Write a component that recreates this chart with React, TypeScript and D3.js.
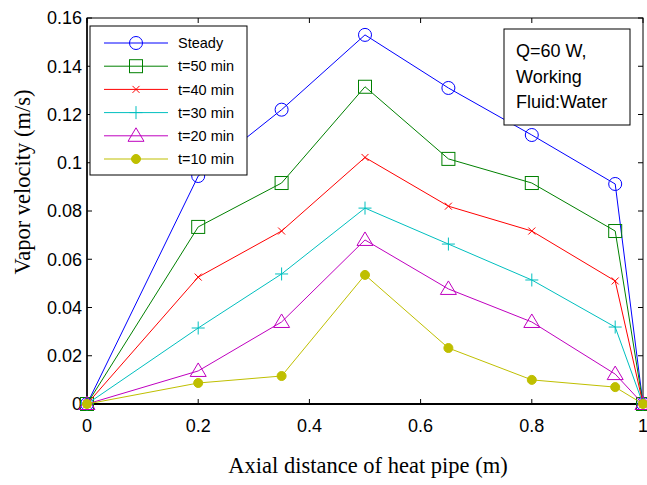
import React, { useRef, useEffect } from "react";
import * as d3 from "d3";

// axial positions (m)
const positions = [0, 0.2, 0.35, 0.5, 0.65, 0.8, 0.95, 1];

const steady = [0, 0.0945, 0.122, 0.153, 0.131, 0.1115, 0.0912, 0];
const t50 = [0, 0.0734, 0.0916, 0.1315, 0.1016, 0.0916, 0.0717, 0];
const t40 = [0, 0.0526, 0.0717, 0.1022, 0.082, 0.0717, 0.051, 0];
const t30 = [0, 0.0315, 0.0539, 0.0812, 0.0663, 0.0514, 0.0319, 0];
const t20 = [0, 0.0137, 0.034, 0.068, 0.0477, 0.034, 0.0124, 0];
const t10 = [0, 0.0087, 0.0116, 0.0535, 0.0232, 0.01, 0.007, 0];

const seriesNames = ["Steady", "t=50 min", "t=40 min", "t=30 min", "t=20 min", "t=10 min"];
const seriesValues = [steady, t50, t40, t30, t20, t10];
const seriesColors = ["#0000ff", "#008000", "#ff0000", "#00bfbf", "#bf00bf", "#bfbf00"];
const seriesMarkers = ["circle", "square", "x", "plus", "triangle", "dot"];

const xTicks = [0, 0.2, 0.4, 0.6, 0.8, 1];
const yTicks = [0, 0.02, 0.04, 0.06, 0.08, 0.1, 0.12, 0.14, 0.16];

const noteLines = ["Q=60 W,", "Working", "Fluid:Water"];

const width = 647;
const height = 485;
const margin = { top: 18, right: 4, bottom: 81, left: 87 };

function drawMarker(g: any, kind: string, x: number, y: number, color: string) {
  if (kind === "circle") {
    g.append("circle").attr("cx", x).attr("cy", y).attr("r", 6.5)
      .attr("fill", "none").attr("stroke", color).attr("stroke-width", 1);
  } else if (kind === "square") {
    g.append("rect").attr("x", x - 6.5).attr("y", y - 6.5).attr("width", 13).attr("height", 13)
      .attr("fill", "none").attr("stroke", color).attr("stroke-width", 1);
  } else if (kind === "x") {
    const s = 3.5;
    g.append("path").attr("d", `M${x - s},${y - s}L${x + s},${y + s}M${x - s},${y + s}L${x + s},${y - s}`)
      .attr("stroke", color).attr("stroke-width", 1);
  } else if (kind === "plus") {
    const s = 6.5;
    g.append("path").attr("d", `M${x - s},${y}L${x + s},${y}M${x},${y - s}L${x},${y + s}`)
      .attr("stroke", color).attr("stroke-width", 1);
  } else if (kind === "triangle") {
    g.append("path").attr("d", `M${x},${y - 8}L${x + 8},${y + 5.5}L${x - 8},${y + 5.5}Z`)
      .attr("fill", "none").attr("stroke", color).attr("stroke-width", 1);
  } else if (kind === "dot") {
    g.append("circle").attr("cx", x).attr("cy", y).attr("r", 4.5)
      .attr("fill", color).attr("stroke", color);
  }
}

export default function App() {
  const svgRef = useRef<SVGSVGElement>(null);

  useEffect(() => {
    const svg = d3.select(svgRef.current);
    svg.selectAll("*").remove();

    const x0 = margin.left;
    const x1 = width - margin.right;
    const y0 = height - margin.bottom;
    const y1 = margin.top;

    const xScale = d3.scaleLinear().domain([0, 1]).range([x0, x1]);
    const yScale = d3.scaleLinear().domain([0, 0.16]).range([y0, y1]);

    svg.append("rect").attr("width", width).attr("height", height).attr("fill", "#fff");

    const tickFont = "Arial, 'Liberation Sans', sans-serif";
    const serif = "'Times New Roman', 'Liberation Serif', serif";

    // frame + inward ticks
    const frame = svg.append("g").attr("stroke", "#000").attr("fill", "none");
    frame.append("rect").attr("x", x0).attr("y", y1).attr("width", x1 - x0).attr("height", y0 - y1)
      .attr("stroke-width", 1);
    frame.append("line").attr("x1", x0).attr("x2", x1).attr("y1", y0).attr("y2", y0).attr("stroke-width", 2);
    frame.append("line").attr("x1", x0).attr("x2", x0).attr("y1", y0).attr("y2", y1).attr("stroke-width", 1.5);

    xTicks.forEach((t) => {
      const px = xScale(t);
      frame.append("line").attr("x1", px).attr("x2", px).attr("y1", y0).attr("y2", y0 - 5);
      frame.append("line").attr("x1", px).attr("x2", px).attr("y1", y1).attr("y2", y1 + 5);
    });
    yTicks.forEach((t) => {
      const py = yScale(t);
      frame.append("line").attr("x1", x0).attr("x2", x0 + 5).attr("y1", py).attr("y2", py);
      frame.append("line").attr("x1", x1).attr("x2", x1 - 5).attr("y1", py).attr("y2", py);
    });

    const fmt = (v: number) => (v === 0 ? "0" : d3.format("~g")(v));

    svg.append("g").selectAll("text").data(xTicks).enter().append("text")
      .attr("x", (d) => xScale(d)).attr("y", y0 + 28)
      .attr("text-anchor", "middle").attr("font-family", tickFont).attr("font-size", 18)
      .text((d) => fmt(d));

    svg.append("g").selectAll("text").data(yTicks).enter().append("text")
      .attr("x", x0 - 5).attr("y", (d) => yScale(d)).attr("dy", "0.36em")
      .attr("text-anchor", "end").attr("font-family", tickFont).attr("font-size", 18)
      .text((d) => fmt(d));

    // series
    const line = d3.line<number>().x((d, i) => xScale(positions[i])).y((d) => yScale(d));
    seriesValues.forEach((vals, si) => {
      const g = svg.append("g");
      g.append("path").attr("d", line(vals) as string).attr("fill", "none")
        .attr("stroke", seriesColors[si]).attr("stroke-width", 1);
      vals.forEach((v, i) => {
        drawMarker(g, seriesMarkers[si], xScale(positions[i]), yScale(v), seriesColors[si]);
      });
    });

    // legend
    const lg = svg.append("g");
    lg.append("rect").attr("x", 90).attr("y", 26).attr("width", 157).attr("height", 149)
      .attr("fill", "#fff").attr("stroke", "#000").attr("stroke-width", 1);
    seriesNames.forEach((name, i) => {
      const ly = 43 + i * 23.2;
      lg.append("line").attr("x1", 104).attr("x2", 168).attr("y1", ly).attr("y2", ly)
        .attr("stroke", seriesColors[i]).attr("stroke-width", 1);
      drawMarker(lg, seriesMarkers[i], 136, ly, seriesColors[i]);
      lg.append("text").attr("x", 178).attr("y", ly).attr("dy", "0.36em")
        .attr("font-family", tickFont).attr("font-size", 14.5).text(name);
    });

    // annotation box
    const ng = svg.append("g");
    ng.append("rect").attr("x", 504).attr("y", 29).attr("width", 126).attr("height", 96)
      .attr("fill", "#fff").attr("stroke", "#000").attr("stroke-width", 1);
    noteLines.forEach((t, i) => {
      ng.append("text").attr("x", 516).attr("y", 57 + i * 25.5)
        .attr("font-family", tickFont).attr("font-size", 18).text(t);
    });

    // axis labels
    svg.append("text").attr("x", 368).attr("y", 473).attr("text-anchor", "middle")
      .attr("font-family", serif).attr("font-size", 22.5)
      .text("Axial distance of heat pipe (m)");
    svg.append("text").attr("transform", `translate(30,182) rotate(-90)`)
      .attr("text-anchor", "middle")
      .attr("font-family", serif).attr("font-size", 22.5)
      .text("Vapor velocity (m/s)");
  }, []);

  return (
    <svg ref={svgRef} width={width} height={height}
      style={{ position: "absolute", left: 0, top: 0, display: "block" }} />
  );
}
